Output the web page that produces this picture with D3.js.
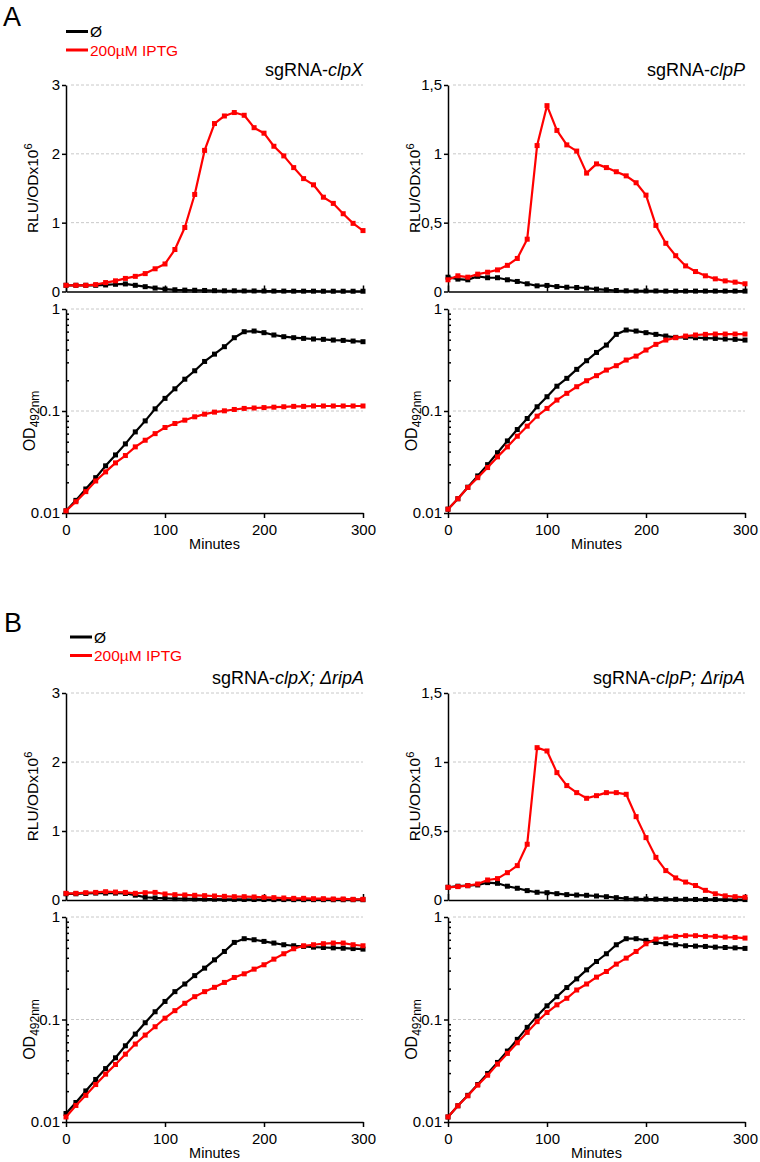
<!DOCTYPE html>
<html>
<head>
<meta charset="utf-8">
<script src="https://cdn.jsdelivr.net/npm/d3@7"></script>
<style>
  body { margin: 0; background: #fff; }
  svg { font-family: "Liberation Sans", Arial, sans-serif; }
  .grid { stroke: #c8c8c8; stroke-width: 1; stroke-dasharray: 3 2; }
  .axis path, .axis line { stroke: #000; stroke-width: 1.5; }
  .axis text { font-size: 15px; fill: #000; font-family: "Liberation Sans", Arial, sans-serif; }
</style>
</head>
<body>
<script>
// sampling times (minutes)
const minutes = [0,10,20,30,40,50,60,70,80,90,100,110,120,130,140,150,160,170,180,190,200,210,220,230,240,250,260,270,280,290,300];

// A - sgRNA-clpX, luminescence
const rluClpXCtrl = [0.09,0.09,0.09,0.09,0.095,0.105,0.11,0.09,0.07,0.05,0.035,0.025,0.02,0.018,0.015,0.012,0.01,0.01,0.008,0.008,0.007,0.006,0.006,0.005,0.005,0.005,0.004,0.004,0.004,0.004,0.004];
const rluClpXIptg = [0.09,0.09,0.09,0.10,0.13,0.155,0.19,0.22,0.26,0.33,0.40,0.61,0.93,1.41,2.05,2.44,2.55,2.60,2.56,2.38,2.30,2.11,1.97,1.80,1.64,1.55,1.37,1.28,1.13,0.99,0.885];
// A - sgRNA-clpP, luminescence
const rluClpPCtrl = [0.104,0.09,0.085,0.11,0.10,0.10,0.085,0.073,0.056,0.041,0.044,0.036,0.031,0.029,0.024,0.017,0.012,0.007,0.005,0.004,0.004,0.004,0.003,0.003,0.003,0.003,0.003,0.003,0.003,0.003,0.003];
const rluClpPIptg = [0.085,0.114,0.104,0.126,0.14,0.157,0.19,0.24,0.38,1.06,1.35,1.17,1.065,1.02,0.86,0.927,0.90,0.87,0.84,0.79,0.70,0.48,0.35,0.26,0.186,0.145,0.114,0.092,0.077,0.068,0.056];
// A - growth
const odClpXCtrl = [0.0105,0.0133,0.0172,0.0222,0.029,0.0371,0.0476,0.0624,0.080,0.105,0.133,0.165,0.205,0.248,0.306,0.361,0.427,0.523,0.599,0.608,0.586,0.556,0.535,0.523,0.515,0.508,0.504,0.496,0.492,0.485,0.478];
const odClpXIptg = [0.0105,0.0129,0.0162,0.0206,0.0253,0.031,0.0366,0.0445,0.0517,0.060,0.0689,0.0754,0.0813,0.0877,0.0931,0.0975,0.1004,0.1035,0.106,0.107,0.108,0.109,0.110,0.111,0.111,0.112,0.112,0.112,0.112,0.112,0.112];
const odClpPCtrl = [0.0109,0.0138,0.0179,0.0231,0.0298,0.039,0.0509,0.0658,0.0844,0.110,0.138,0.175,0.209,0.256,0.311,0.375,0.443,0.564,0.622,0.608,0.586,0.564,0.543,0.527,0.527,0.523,0.519,0.515,0.508,0.504,0.496];
const odClpPIptg = [0.0109,0.0138,0.0178,0.0222,0.0279,0.0355,0.0445,0.0566,0.071,0.089,0.106,0.128,0.149,0.173,0.198,0.222,0.252,0.278,0.316,0.345,0.396,0.45,0.496,0.523,0.543,0.556,0.564,0.568,0.568,0.568,0.568];

// B - ripA deletion
const rluClpXRipCtrl = [0.09,0.09,0.095,0.10,0.10,0.10,0.095,0.07,0.04,0.03,0.025,0.02,0.018,0.015,0.013,0.012,0.01,0.009,0.008,0.007,0.007,0.006,0.006,0.005,0.005,0.005,0.005,0.004,0.004,0.004,0.004];
const rluClpXRipIptg = [0.097,0.097,0.106,0.11,0.12,0.115,0.11,0.097,0.106,0.11,0.087,0.077,0.073,0.068,0.063,0.058,0.053,0.048,0.048,0.044,0.039,0.034,0.029,0.024,0.024,0.019,0.019,0.015,0.015,0.01,0.01];
const rluClpPRipCtrl = [0.092,0.10,0.104,0.109,0.126,0.121,0.10,0.085,0.068,0.056,0.053,0.046,0.039,0.036,0.034,0.029,0.024,0.017,0.01,0.008,0.007,0.006,0.006,0.005,0.005,0.004,0.004,0.004,0.004,0.003,0.003];
const rluClpPRipIptg = [0.092,0.097,0.104,0.116,0.145,0.155,0.198,0.249,0.404,1.104,1.08,0.923,0.829,0.778,0.737,0.756,0.778,0.778,0.766,0.604,0.452,0.309,0.213,0.16,0.13,0.105,0.07,0.045,0.03,0.024,0.02];
const odClpXRipCtrl = [0.0121,0.0155,0.0201,0.026,0.0332,0.0423,0.0554,0.0721,0.093,0.119,0.150,0.187,0.222,0.268,0.317,0.382,0.461,0.565,0.614,0.600,0.578,0.557,0.536,0.524,0.516,0.508,0.504,0.500,0.496,0.492,0.486];
const odClpXRipIptg = [0.0112,0.0145,0.0182,0.0232,0.0293,0.0364,0.0459,0.0576,0.0705,0.085,0.103,0.122,0.144,0.167,0.187,0.206,0.23,0.257,0.279,0.31,0.342,0.388,0.438,0.49,0.524,0.536,0.549,0.557,0.557,0.536,0.524];
const odClpPRipCtrl = [0.0112,0.0144,0.0182,0.0232,0.0297,0.0381,0.0492,0.064,0.0838,0.108,0.136,0.167,0.205,0.249,0.305,0.368,0.438,0.536,0.614,0.614,0.592,0.565,0.549,0.536,0.524,0.520,0.516,0.508,0.504,0.500,0.494];
const odClpPRipIptg = [0.0112,0.0144,0.018,0.0229,0.0286,0.0367,0.0467,0.0593,0.0749,0.0953,0.117,0.139,0.161,0.194,0.222,0.259,0.294,0.347,0.397,0.461,0.548,0.609,0.637,0.647,0.657,0.657,0.647,0.647,0.637,0.632,0.623];

// ticks
const xTicks = [0,100,200,300];
const rluTicks3 = [0,1,2,3];
const rluTicks15 = [0,0.5,1,1.5];
const odTicks = [0.01,0.1,1];
const odMinor = [0.02,0.03,0.04,0.05,0.06,0.07,0.08,0.09,0.2,0.3,0.4,0.5,0.6,0.7,0.8,0.9];

const legendLabels = ["Ø", "200µM IPTG"];
const colors = ["#000", "#ff0000"];

const W = 760, H = 1162;
const svg = d3.select("body").append("svg").attr("width", W).attr("height", H);

const drawSeries = (g, x, y, values, color) => {
    const pts = minutes.map((m, i) => [m, values[i]]);
    g.append("path")
        .attr("d", d3.line().x(d => x(d[0])).y(d => y(d[1]))(pts))
        .attr("fill", "none")
        .attr("stroke", color)
        .attr("stroke-width", 2.2)
        .attr("stroke-linejoin", "round");
    g.selectAll(null).data(pts).enter().append("rect")
        .attr("x", d => x(d[0]) - 2.5)
        .attr("y", d => y(d[1]) - 2.5)
        .attr("width", 5)
        .attr("height", 5)
        .attr("fill", color);
};

const drawRlu = (x0, yTop, yBot, max, ticks, fmt, ctrl, iptg) => {
    const g = svg.append("g");
    const x = d3.scaleLinear().domain([0, 300]).range([x0, x0 + 297]);
    const y = d3.scaleLinear().domain([0, max]).range([yBot, yTop]);

    ticks.filter(t => t > 0).forEach(t => {
        g.append("line").attr("class", "grid")
            .attr("x1", x0 + 5).attr("x2", x0 + 297)
            .attr("y1", y(t)).attr("y2", y(t));
    });

    g.append("g").attr("class", "axis")
        .attr("transform", `translate(0,${yBot})`)
        .call(d3.axisTop(x).tickValues(xTicks).tickSize(6).tickSizeOuter(0).tickFormat(""));
    g.append("g").attr("class", "axis")
        .attr("transform", `translate(${x0},0)`)
        .call(d3.axisLeft(y).tickValues(ticks).tickSize(4).tickPadding(2).tickSizeOuter(0).tickFormat(fmt));

    drawSeries(g, x, y, ctrl, colors[0]);
    drawSeries(g, x, y, iptg, colors[1]);

    const lbl = g.append("text")
        .attr("transform", `translate(${x0 - 28},${(yTop + yBot) / 2}) rotate(-90)`)
        .attr("text-anchor", "middle")
        .attr("font-size", 15.5);
    lbl.append("tspan").text("RLU/ODx10");
    lbl.append("tspan").attr("dy", -6).attr("font-size", 11).text("6");
};

const drawOd = (x0, yTop, yBot, ctrl, iptg) => {
    const g = svg.append("g");
    const x = d3.scaleLinear().domain([0, 300]).range([x0, x0 + 297]);
    const y = d3.scaleLog().domain([0.01, 1]).range([yBot, yTop]);

    [1, 0.1].forEach(t => {
        g.append("line").attr("class", "grid")
            .attr("x1", x0 + 5).attr("x2", x0 + 297)
            .attr("y1", y(t)).attr("y2", y(t));
    });

    g.append("g").attr("class", "axis")
        .attr("transform", `translate(0,${yBot})`)
        .call(d3.axisBottom(x).tickValues(xTicks).tickSize(5).tickPadding(6).tickSizeOuter(0));
    g.append("g").attr("class", "axis")
        .attr("transform", `translate(${x0},0)`)
        .call(d3.axisLeft(y).tickValues(odTicks).tickSize(4).tickPadding(2).tickSizeOuter(0)
            .tickFormat(d => d === 1 ? "1" : String(d)));
    g.append("g").attr("class", "axis")
        .attr("transform", `translate(${x0},0)`)
        .call(d3.axisRight(y).tickValues(odMinor).tickSize(3).tickSizeOuter(0).tickFormat(""))
        .select(".domain").remove();

    drawSeries(g, x, y, ctrl, colors[0]);
    drawSeries(g, x, y, iptg, colors[1]);

    const lbl = g.append("text")
        .attr("transform", `translate(${x0 - 31},${(yTop + yBot) / 2 + 10}) rotate(-90)`)
        .attr("text-anchor", "middle")
        .attr("font-size", 16);
    lbl.append("tspan").text("OD");
    lbl.append("tspan").attr("dy", 4).attr("font-size", 12).text("492nm");

    g.append("text")
        .attr("x", x0 + 148.5).attr("y", yBot + 36)
        .attr("text-anchor", "middle")
        .attr("font-size", 14.5)
        .text("Minutes");
};

const drawLegend = (x0, y0) => {
    legendLabels.forEach((l, i) => {
        svg.append("line")
            .attr("x1", x0).attr("x2", x0 + 22)
            .attr("y1", y0 + i * 18.5).attr("y2", y0 + i * 18.5)
            .attr("stroke", colors[i]).attr("stroke-width", 3);
        svg.append("text")
            .attr("x", x0 + 24).attr("y", y0 + i * 18.5 + 5.5)
            .attr("font-size", 15.5)
            .attr("fill", colors[i])
            .text(l);
    });
};

const drawTitle = (xr, yb, main, ital) => {
    const t = svg.append("text").attr("x", xr).attr("y", yb)
        .attr("text-anchor", "end").attr("font-size", 18);
    t.append("tspan").text(main);
    t.append("tspan").attr("font-style", "italic").text(ital);
};

const fmtDot = d => String(d);
const fmtComma = d => String(d).replace(".", ",");

// Panel A
svg.append("text").attr("x", 3).attr("y", 26).attr("font-size", 27).text("A");
drawLegend(66, 31.5);
drawTitle(363, 76, "sgRNA-", "clpX");
drawTitle(745, 76, "sgRNA-", "clpP");
drawRlu(66, 85, 291.5, 3, rluTicks3, fmtDot, rluClpXCtrl, rluClpXIptg);
drawRlu(448, 85, 291.5, 1.5, rluTicks15, fmtComma, rluClpPCtrl, rluClpPIptg);
drawOd(66, 309, 513, odClpXCtrl, odClpXIptg);
drawOd(448, 309, 513, odClpPCtrl, odClpPIptg);

// Panel B
svg.append("text").attr("x", 4).attr("y", 632).attr("font-size", 27).text("B");
drawLegend(70, 637);
drawTitle(364, 684, "sgRNA-", "clpX; ΔripA");
drawTitle(745, 684, "sgRNA-", "clpP; ΔripA");
drawRlu(66, 693, 900, 3, rluTicks3, fmtDot, rluClpXRipCtrl, rluClpXRipIptg);
drawRlu(448, 693, 900, 1.5, rluTicks15, fmtComma, rluClpPRipCtrl, rluClpPRipIptg);
drawOd(66, 917, 1122, odClpXRipCtrl, odClpXRipIptg);
drawOd(448, 917, 1122, odClpPRipCtrl, odClpPRipIptg);
</script>
</body>
</html>
